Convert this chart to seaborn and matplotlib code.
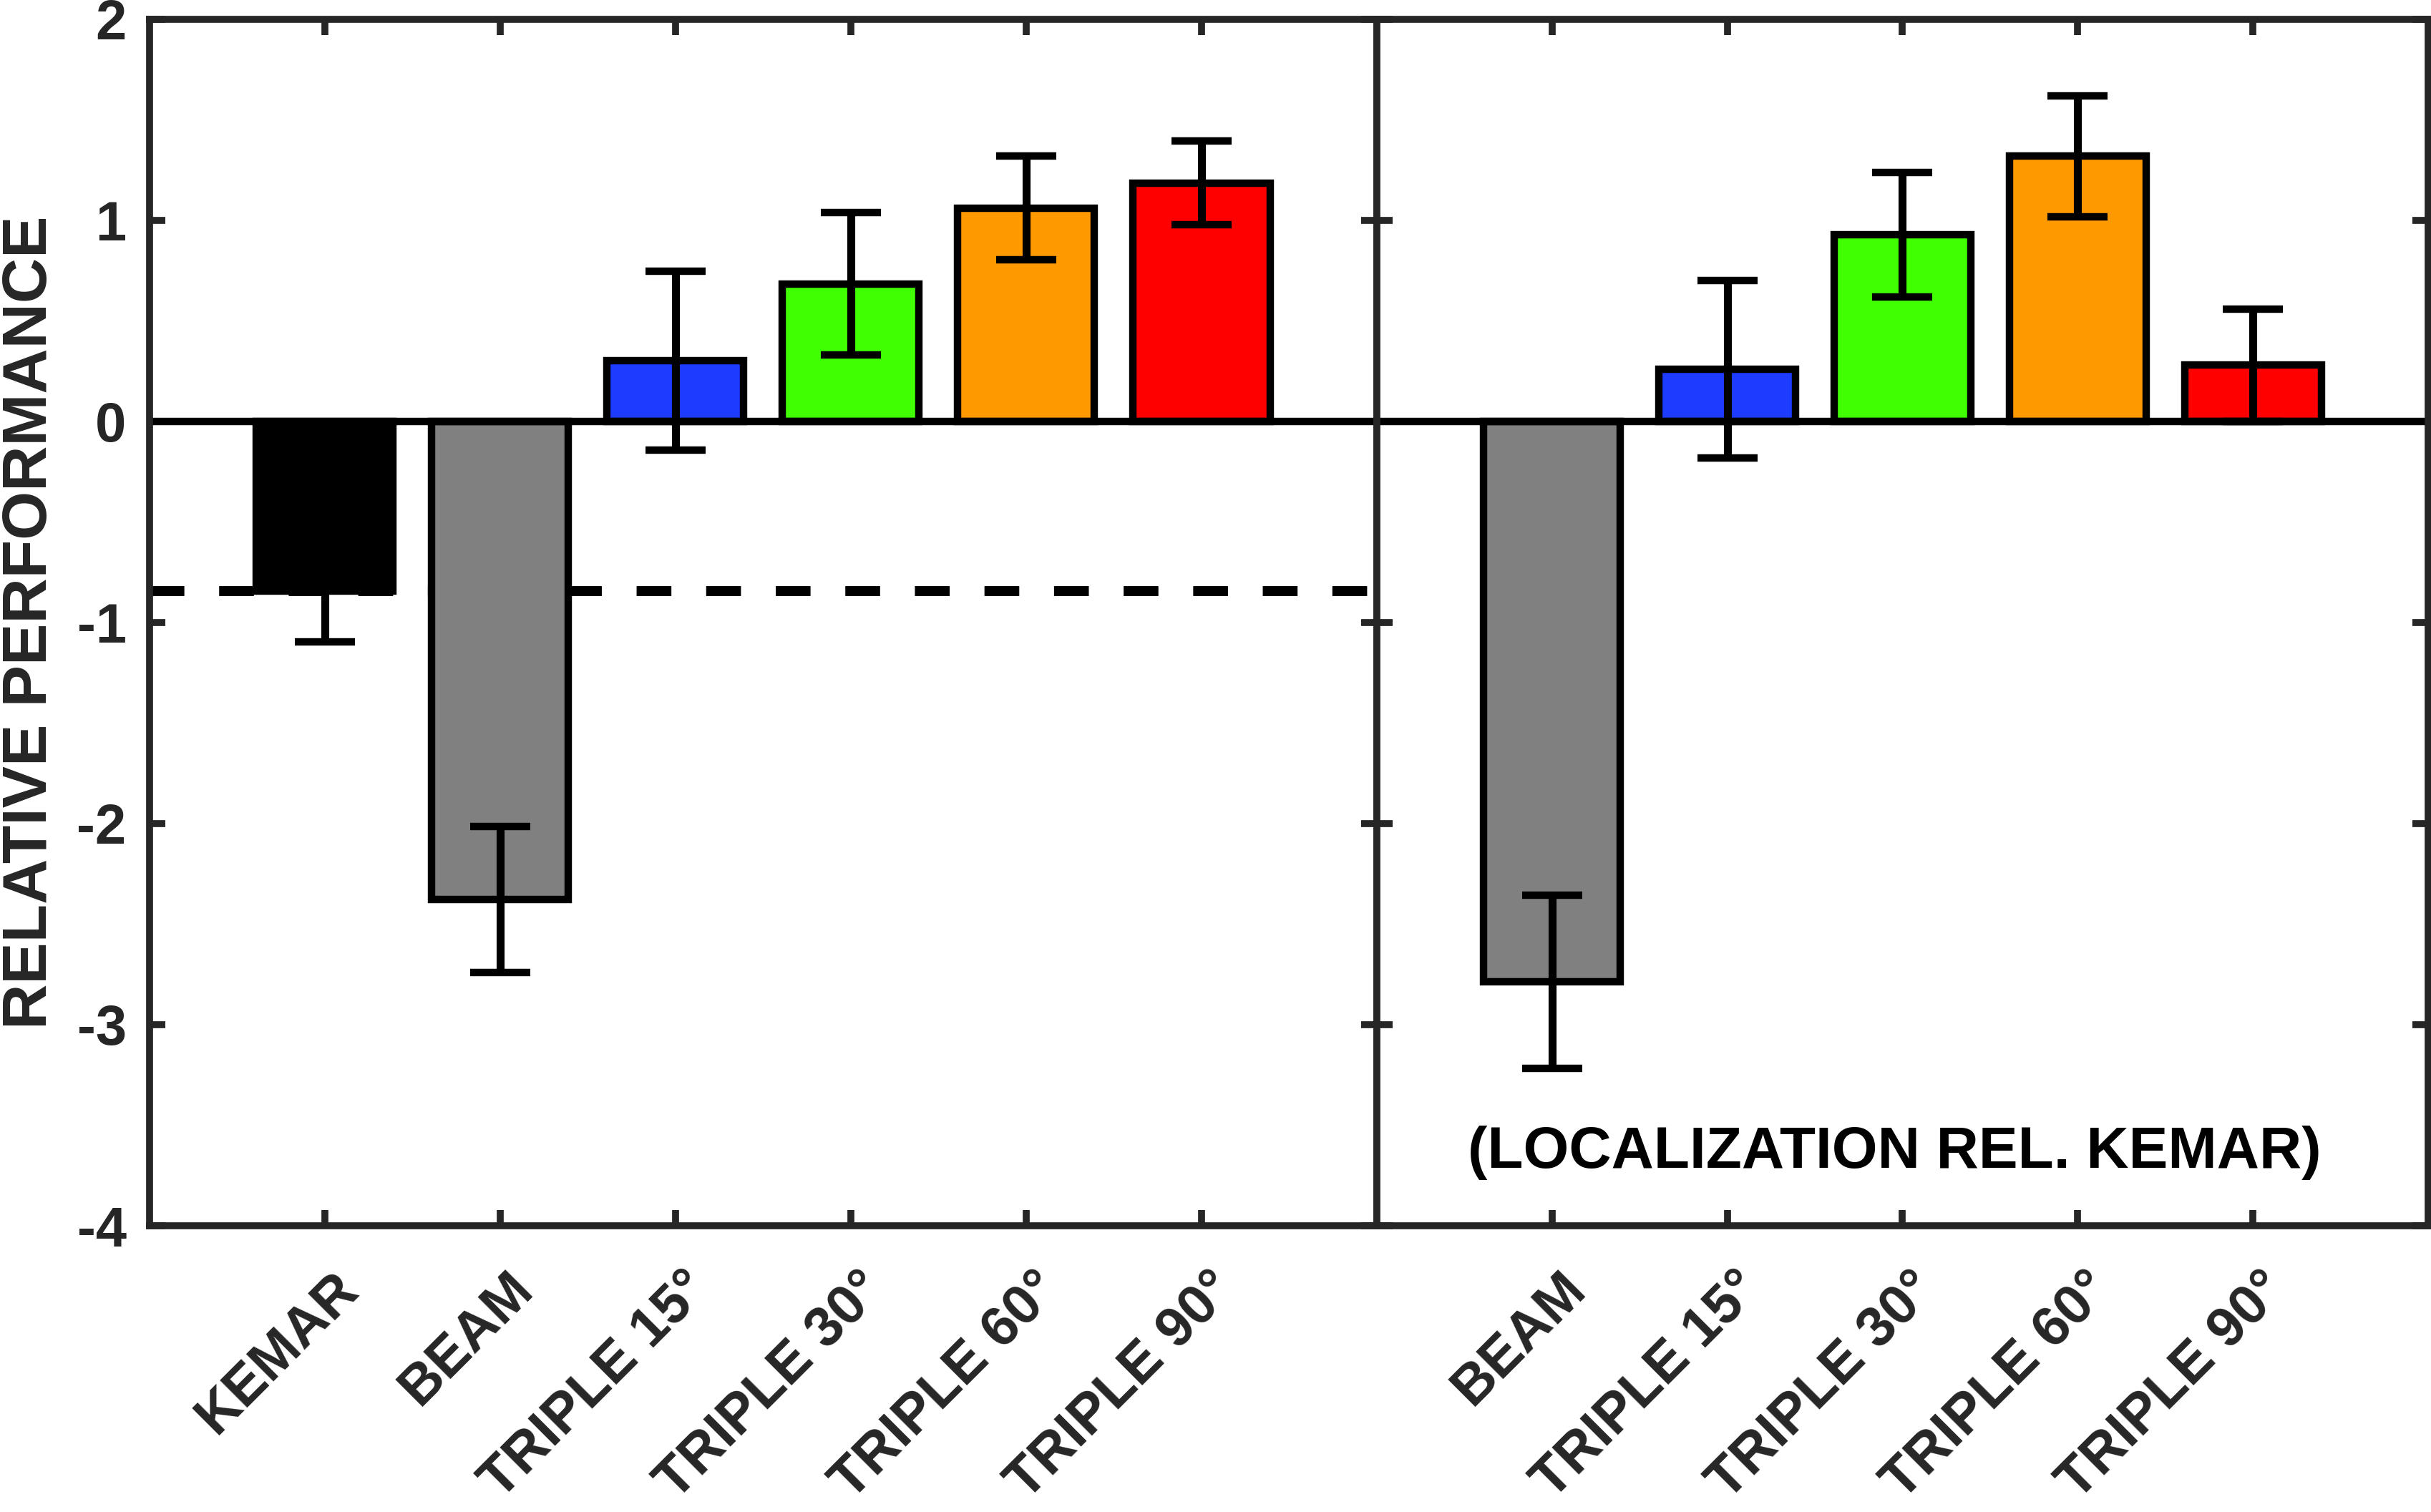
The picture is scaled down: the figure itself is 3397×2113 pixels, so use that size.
import numpy as np
import matplotlib
matplotlib.use("Agg")
import matplotlib.pyplot as plt
import matplotlib.transforms as mtransforms
import seaborn as sns

# ---------------- data ----------------
left_categories = ["KEMAR", "BEAM", "TRIPLE 15°", "TRIPLE 30°", "TRIPLE 60°", "TRIPLE 90°"]
left_values = [-0.846, -2.378, 0.300, 0.683, 1.060, 1.184]
left_errors = [0.25, 0.363, 0.445, 0.354, 0.258, 0.208]
left_colors = ["#000000", "#808080", "#1E3CFF", "#40FF00", "#FF9900", "#FF0000"]

right_categories = ["BEAM", "TRIPLE 15°", "TRIPLE 30°", "TRIPLE 60°", "TRIPLE 90°"]
right_values = [-2.786, 0.258, 0.927, 1.318, 0.279]
right_errors = [0.43, 0.44, 0.31, 0.30, 0.28]
right_colors = ["#808080", "#1E3CFF", "#40FF00", "#FF9900", "#FF0000"]

y_ticks = [-4, -3, -2, -1, 0, 1, 2]
y_label = "RELATIVE PERFORMANCE"
annotation = "(LOCALIZATION REL. KEMAR)"
kemar_reference = left_values[0]

# ---------------- style ----------------
sns.set_theme(style="ticks")
plt.rcParams["font.family"] = ["Liberation Sans", "DejaVu Sans"]
plt.rcParams["font.weight"] = "bold"
plt.rcParams["axes.unicode_minus"] = False
DARK = "#262626"

DPI = 100
fig = plt.figure(figsize=(33.98, 21.13), dpi=DPI)

ax_l = fig.add_axes([0.06136, 0.18930, 0.50486, 0.79815])
ax_r = fig.add_axes([0.56621, 0.18930, 0.43231, 0.79815])

def draw_panel(ax, cats, vals, errs, cols):
    sns.barplot(x=cats, y=vals, hue=cats, palette=cols, legend=False,
                width=0.78, edgecolor="black", linewidth=7.5, errorbar=None,
                saturation=1, ax=ax, zorder=3)
    ax.errorbar(x=np.arange(len(cats)), y=vals, yerr=errs, fmt="none",
                ecolor="black", elinewidth=8, capsize=30, capthick=7.5, zorder=5)
    ax.axhline(0, color="black", lw=7.5, zorder=4)
    ax.set_xlim(-1, len(cats))
    ax.set_ylim(-4, 2)
    ax.set_yticks(y_ticks)
    for sp in ax.spines.values():
        sp.set_visible(True)
        sp.set_linewidth(7)
        sp.set_color(DARK)
        sp.set_zorder(6)
    ax.tick_params(axis="both", direction="in", length=16, width=7, color=DARK,
                   top=True, right=True, left=True, bottom=True,
                   labelsize=56, labelcolor=DARK)
    ax.tick_params(axis="x", pad=55)
    ax.set_xlabel("")
    offset = mtransforms.ScaledTranslation(0.35, 0, fig.dpi_scale_trans)
    for lab in ax.get_xticklabels():
        lab.set_rotation(45)
        lab.set_ha("right")
        lab.set_va("center")
        lab.set_rotation_mode("anchor")
        lab.set_fontweight("bold")
        lab.set_transform(lab.get_transform() + offset)

draw_panel(ax_l, left_categories, left_values, left_errors, left_colors)
draw_panel(ax_r, right_categories, right_values, right_errors, right_colors)

# dashed KEMAR reference line (left panel)
ax_l.axhline(kemar_reference, color="black", lw=10, linestyle=(0, (3.5, 3.5)), zorder=2)

# y labels
ax_l.tick_params(axis="y", pad=23)
for lab in ax_l.get_yticklabels():
    lab.set_fontweight("bold")
ax_r.tick_params(axis="y", labelleft=False)
ax_l.set_ylabel(y_label, fontsize=63, fontweight="bold", color=DARK)
ax_l.yaxis.set_label_coords(-0.073, 0.5)

# annotation
ax_r.text(1.955, -3.712, annotation, ha="center", va="baseline", fontsize=59,
          fontweight="bold", color="black", zorder=7)

fig.savefig("out.png", dpi=DPI, facecolor="white")
